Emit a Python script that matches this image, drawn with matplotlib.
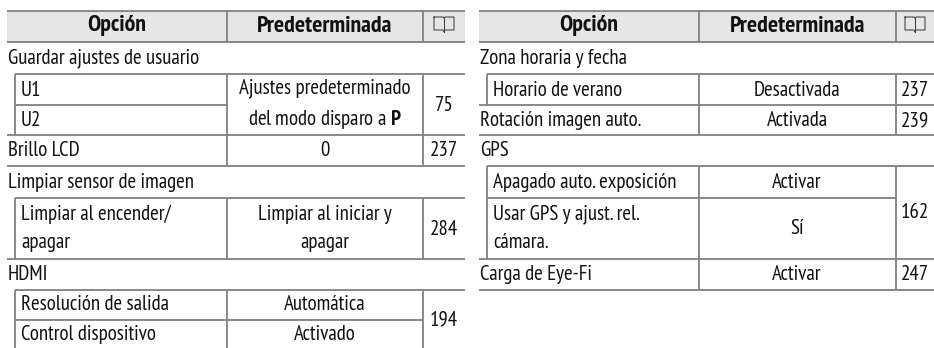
import matplotlib
matplotlib.use('Agg')
import matplotlib.pyplot as plt
from matplotlib import font_manager
from matplotlib.patches import Rectangle

header_labels = ['Opción', 'Predeterminada']

left_sections = ['Guardar ajustes de usuario', 'Brillo LCD', 'Limpiar sensor de imagen', 'HDMI']
left_options = ['U1', 'U2', 'Limpiar al encender/\napagar', 'Resolución de salida', 'Control dispositivo']
left_defaults = ['Ajustes predeterminado\ndel modo disparo a $\\mathbf{P}$', '0', 'Limpiar al iniciar y\napagar',
                 'Automática', 'Activado']
left_pages = ['75', '237', '284', '194']

right_sections = ['Zona horaria y fecha', 'Rotación imagen auto.', 'GPS', 'Carga de Eye-Fi']
right_options = ['Horario de verano', 'Apagado auto. exposición', 'Usar GPS y ajust. rel.\ncámara.']
right_defaults = ['Desactivada', 'Activada', 'Activar', 'Sí', 'Activar']
right_pages = ['237', '239', '162', '247']

# condensed humanist face if there is one, Lato is the narrowest of the usual ones
installed = set(f.name for f in font_manager.fontManager.ttflist)
FONT = 'Lato'
for name in ['PT Sans Narrow', 'Fira Sans Condensed', 'Open Sans Condensed', 'Asap Condensed',
             'Sofia Sans Condensed', 'Lato']:
    if name in installed:
        FONT = name
        break

GREY = '#808080'
FS = 15

plt.rcParams['font.family'] = [FONT, 'DejaVu Sans']
plt.rcParams['mathtext.fontset'] = 'custom'
plt.rcParams['mathtext.rm'] = FONT
plt.rcParams['mathtext.bf'] = FONT + ':bold'

fig = plt.figure(figsize=(9.34, 3.48), dpi=100)
ax = fig.add_axes([0, 0, 1, 1])
ax.set_xlim(0, 934)
ax.set_ylim(348, 0)
ax.axis('off')


def hline(y, x0, x1):
    ax.plot([x0, x1], [y, y], color=GREY, lw=1.3, solid_capstyle='butt')


def vline(x, y0, y1):
    ax.plot([x, x], [y0, y1], color=GREY, lw=1.3, solid_capstyle='butt')


def put(x, y, s, ha='left', size=FS, **kw):
    ax.text(x, y, s, ha=ha, va='center', fontsize=size, color='#111111', linespacing=1.6, **kw)


def book(cx, cy):
    ax.plot([cx - 10, cx - 10, cx - 1, cx, cx + 1, cx + 10, cx + 10, cx + 1, cx, cx - 1, cx - 10],
            [cy - 7, cy + 6, cy + 6, cy + 8, cy + 6, cy + 6, cy - 7, cy - 7, cy - 6, cy - 7, cy - 7],
            color='#333333', lw=0.7)
    ax.plot([cx, cx], [cy - 6, cy + 8], color='#333333', lw=0.7)


def header(x0, xa, xb, x1):
    ax.add_patch(Rectangle((x0, 11), x1 - x0, 31, color='#e6e6e6', lw=0))
    hline(11, x0, x1)
    hline(42, x0, x1)
    vline(xa, 11, 42)
    vline(xb, 11, 42)
    put((x0 + xa) / 2, 26, header_labels[0], ha='center', fontweight='bold', size=17.2)
    put((xa + xb) / 2, 26, header_labels[1], ha='center', fontweight='bold', size=17.2)
    book((xb + x1) / 2, 24)


# left table
x0, xa, xb, x1, xi = 7, 227, 423, 465, 15
header(x0, xa, xb, x1)
for y, a, b in [(74, xi, x1), (105, xi, xa), (135, x0, x1), (166, x0, x1), (198, xi, x1),
                (259, x0, x1), (290, xi, x1), (320, xi, x1 - 42)]:
    hline(y, a, b)
for x, y0, y1 in [(xi, 74, 135), (xa, 74, 166), (xb, 74, 166), (xi, 198, 259), (xa, 198, 259), (xb, 198, 259),
                  (xi, 290, 348), (xa, 290, 348), (xb, 290, 348)]:
    vline(x, y0, y1)

put(8, 58, left_sections[0])
put(8, 151, left_sections[1])
put(8, 183, left_sections[2])
put(8, 274, left_sections[3])
put(21, 90, left_options[0])
put(21, 121, left_options[1])
put(21, 228, left_options[2])
put(21, 305, left_options[3])
put(21, 335, left_options[4])
put(325, 105, left_defaults[0], ha='center')
put(325, 151, left_defaults[1], ha='center')
put(325, 228, left_defaults[2], ha='center')
put(325, 305, left_defaults[3], ha='center')
put(325, 335, left_defaults[4], ha='center')
put(444, 105.5, left_pages[0], ha='center')
put(444, 151, left_pages[1], ha='center')
put(444, 229.5, left_pages[2], ha='center')
put(444, 320, left_pages[3], ha='center')

# right table
x0, xa, xb, x1, xi = 479, 699, 896, 934, 487
header(x0, xa, xb, x1)
for y, a, b in [(74, xi, x1), (105, x0, x1), (135, x0, x1), (166, xi, x1), (198, xi, xb),
                (259, x0, x1), (290, x0, x1)]:
    hline(y, a, b)
for x, y0, y1 in [(xi, 74, 105), (xa, 74, 135), (xb, 74, 135), (xi, 166, 259), (xa, 166, 290), (xb, 166, 290)]:
    vline(x, y0, y1)

put(480, 58, right_sections[0])
put(480, 121, right_sections[1])
put(480, 151, right_sections[2])
put(480, 274, right_sections[3])
put(493, 90, right_options[0])
put(493, 183, right_options[1])
put(493, 228, right_options[2])
put(797, 90, right_defaults[0], ha='center')
put(797, 121, right_defaults[1], ha='center')
put(797, 183, right_defaults[2], ha='center')
put(797, 228.5, right_defaults[3], ha='center')
put(797, 274, right_defaults[4], ha='center')
put(915, 90, right_pages[0], ha='center')
put(915, 121, right_pages[1], ha='center')
put(915, 213, right_pages[2], ha='center')
put(915, 274, right_pages[3], ha='center')

fig.savefig('out.png', dpi=100)
